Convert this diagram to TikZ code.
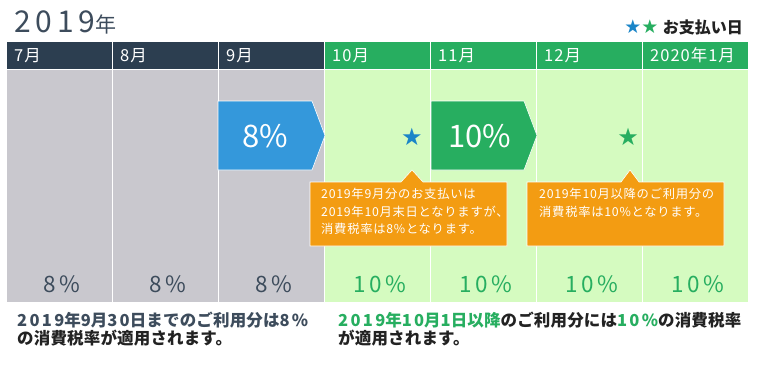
\documentclass[tikz,border=0pt]{standalone}
\usepackage{fontspec}
\setmainfont{Noto Sans CJK JP}
\newfontfamily\symfont{DejaVu Sans}
\newfontfamily\spaced{Noto Sans CJK JP}[LetterSpace=6]
\newfontfamily\wide{Noto Sans CJK JP}[LetterSpace=15]
\newfontfamily\titlefont{Noto Sans CJK JP}[LetterSpace=16]
\newfontfamily\btext{Noto Sans CJK JP}[LetterSpace=1]
\newfontfamily\bdigits{Noto Sans CJK JP}[LetterSpace=14]
\newcommand{\dg}[1]{{\bdigits\bfseries #1}}
\definecolor{navy}{HTML}{2C3E50}
\definecolor{slate}{HTML}{3D4C5C}
\definecolor{graybody}{HTML}{C9C8CE}
\definecolor{hgreen}{HTML}{27AE60}
\definecolor{lgreen}{HTML}{D5FBC0}
\definecolor{ablue}{HTML}{3498DB}
\definecolor{sblue}{HTML}{1A85C8}
\definecolor{orange}{HTML}{F39C12}
\definecolor{txt}{HTML}{222222}
\tikzset{
  hdr/.style={fill=#1, minimum width=105, minimum height=27, anchor=north west, inner sep=0},
  colbody/.style={fill=#1, minimum width=105, minimum height=232, anchor=north west, inner sep=0},
  hlabel/.style={anchor=west, text=white, inner sep=0, font=\spaced\fontsize{16.5}{16.5}\selectfont},
  pct/.style={text=#1, inner sep=0, font=\wide\fontsize{22.5}{22.5}\selectfont},
  arrowshape/.style={fill=#1, draw=white, line width=0.6},
  arrowtext/.style={text=white, inner sep=0, font=\fontsize{31}{31}\selectfont},
  callout/.style={fill=orange, draw=white, line width=0.6},
  callouttext/.style={anchor=north west, text=white, inner sep=0, align=left, font=\spaced\fontsize{12.3}{17.5}\selectfont},
  startxt/.style={inner sep=0, font=\symfont\fontsize{24}{24}\selectfont},
  bottomtxt/.style={anchor=north west, inner sep=0, align=left, text=txt, font=\btext\bfseries\fontsize{16.5}{18}\selectfont}
}
\begin{document}
\begin{tikzpicture}[x=1pt,y=-1pt]
\useasboundingbox[fill=white] (0,0) rectangle (757,364);
% title
\node[anchor=base west, text=slate, inner sep=0, font=\titlefont\fontsize{30}{30}\selectfont] (title) at (14,32) {2019\fontsize{21}{21}\selectfont 年};
% legend
\node[anchor=east, inner sep=0, text=txt, font=\bfseries\fontsize{16}{16}\selectfont] (legend) at (743,27) {お支払い日};
\node[anchor=east, inner sep=0, font=\symfont\fontsize{19}{19}\selectfont] (legstars) at ([xshift=-4]legend.west) {\textcolor{sblue}{★}\textcolor{hgreen}{★}};
% columns
\foreach \i/\lbl/\hc/\bc/\pc/\pt in {0/7月/navy/graybody/slate/8\%, 1/8月/navy/graybody/slate/8\%, 2/9月/navy/graybody/slate/8\%, 3/10月/hgreen/lgreen/hgreen/10\%, 4/11月/hgreen/lgreen/hgreen/10\%, 5/12月/hgreen/lgreen/hgreen/10\%, 6/2020年1月/hgreen/lgreen/hgreen/10\%}{
  \node[hdr=\hc] (h\i) at ({7+106*\i},42) {};
  \node[colbody=\bc] (b\i) at ({7+106*\i},70) {};
  \node[hlabel] (hl\i) at ([xshift=7]h\i.west) {\lbl};
  \node[pct=\pc] (p\i) at ({61.5+106*\i},284) {\pt};
}
% arrows
\path[arrowshape=ablue] (218,101) -- (312,101) -- (325,135.5) -- (312,170) -- (218,170) -- cycle;
\node[arrowtext] (a8) at (265,136) {8\%};
\path[arrowshape=hgreen] (431,101) -- (524,101) -- (537,135.5) -- (524,170) -- (431,170) -- cycle;
\node[arrowtext] (a10) at (480,136) {10\%};
% stars
\node[startxt, text=sblue] (s1) at (412,137) {★};
\node[startxt, text=hgreen] (s2) at (628,137) {★};
% callouts
\path[callout] (310,182) -- (401,182) -- (412,170) -- (423,182) -- (507,182) -- (507,246) -- (310,246) -- cycle;
\node[callouttext] (c1) at (321,188) {2019年9月分のお支払いは\\2019年10月末日となりますが、\\消費税率は8\%となります。};
\path[callout] (527,182) -- (621,182) -- (630,170) -- (639,182) -- (724,182) -- (724,246) -- (527,246) -- cycle;
\node[callouttext] (c2) at (539,188) {2019年10月以降のご利用分の\\消費税率は10\%となります。};
% bottom text
\node[bottomtxt] (n1) at (17,312) {\textcolor{slate}{\dg{2019}年\dg{9}月\dg{30}日までのご利用分は\dg{8\%}}\\の消費税率が適用されます。};
\node[bottomtxt] (n2) at (338,312) {\textcolor{hgreen}{\dg{2019}年\dg{10}月\dg{1}日以降}のご利用分には\textcolor{hgreen}{\dg{10\%}}の消費税率\\が適用されます。};
\end{tikzpicture}
\end{document}
